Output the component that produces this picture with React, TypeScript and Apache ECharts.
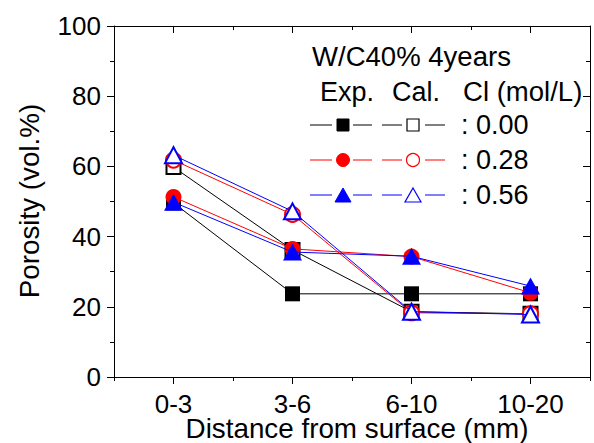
import React, { useEffect, useRef } from "react";
import * as echarts from "echarts";

const categories = ["0-3", "3-6", "6-10", "10-20"];
const exp000 = [49.6, 23.7, 23.7, 23.7];
const exp028 = [51.3, 36.5, 34.3, 24.0];
const exp056 = [49.8, 35.6, 34.4, 25.9];
const cal000 = [59.8, 36.2, 18.6, 18.0];
const cal028 = [61.8, 46.3, 18.3, 18.0];
const cal056 = [63.2, 47.2, 18.6, 17.8];
const clLabels = [": 0.00", ": 0.28", ": 0.56"];
const legendTitle = "W/C40% 4years";
const legendHeads = ["Exp.", "Cal.", "Cl (mol/L)"];
const xTitle = "Distance from surface (mm)";
const yTitle = "Porosity (vol.%)";

const FONT = '"Liberation Sans", Arial, Helvetica, sans-serif';
const BLACK = "#000000";
const RED = "#ff0000";
const BLUE = "#0000ff";

export default function App() {
  const ref = useRef<HTMLDivElement>(null);
  useEffect(() => {
    if (!ref.current) return;
    const chart = echarts.init(ref.current, null, { renderer: "svg" });
    const gridL = 114, gridT = 26, gridR = 4, gridB = 66;

    const mk = (name: string, data: number[], color: string, symbol: string, size: any, z: number) => ({
      name,
      type: "line",
      data,
      symbol,
      symbolSize: size,
      z,
      lineStyle: { color, width: 1 },
      itemStyle: { color, borderColor: color, borderWidth: symbol.startsWith("empty") ? 1.3 : 0 },
      emphasis: { disabled: true },
    });

    const legendRows = [
      { color: BLACK, kind: "square" },
      { color: RED, kind: "circle" },
      { color: BLUE, kind: "triangle" },
    ];
    const rowY = [125, 160, 195];
    const graphics: any[] = [];
    const txt = (text: string, x: number, y: number, size = 27, sx = 1, align = "left") => ({
      type: "text",
      x,
      y,
      scaleX: sx,
      style: {
        text,
        fontSize: size,
        fontFamily: FONT,
        fill: "#000",
        textAlign: align,
        textVerticalAlign: "middle",
        lineHeight: 24,
      },
    });
    graphics.push(txt(legendTitle, 312, 57, 27, 1.02));
    graphics.push(txt(legendHeads[0], 320, 92, 27));
    graphics.push(txt(legendHeads[1], 392, 92, 27));
    graphics.push(txt(legendHeads[2], 463, 92, 27, 1.02));
    legendRows.forEach((r, i) => {
      const y = rowY[i];
      [[310, 332], [353, 372], [382, 402], [425, 445]].forEach(([a, b]) => {
        graphics.push({ type: "line", shape: { x1: a, y1: y, x2: b, y2: y }, style: { stroke: r.color, lineWidth: 1 } });
      });
      const marker = (cx: number, filled: boolean) => {
        const style = filled
          ? { fill: r.color, stroke: r.color, lineWidth: 1 }
          : { fill: "#fff", stroke: r.color, lineWidth: 1.2 };
        if (r.kind === "square") {
          return { type: "rect", shape: { x: cx - 6, y: y - 6, width: 12, height: 12 }, style };
        } else if (r.kind === "circle") {
          return { type: "circle", shape: { cx, cy: y, r: 6.5 }, style };
        }
        return {
          type: "polygon",
          shape: { points: [[cx, y - 7], [cx + 8, y + 7], [cx - 8, y + 7]] },
          style,
        };
      };
      graphics.push(marker(343, true));
      graphics.push(marker(413, false));
      graphics.push(txt(clLabels[i], 461, y, 27));
    });
    graphics.push({
      type: "text",
      x: 30,
      y: 201,
      rotation: Math.PI / 2,
      scaleX: 1.03,
      style: { text: yTitle, fontSize: 27, fontFamily: FONT, fill: "#000", textAlign: "center", textVerticalAlign: "middle", lineHeight: 24 },
    });
    graphics.push({
      type: "text",
      x: 357,
      y: 429,
      scaleX: 1.03,
      style: { text: xTitle, fontSize: 27, fontFamily: FONT, fill: "#000", textAlign: "center", textVerticalAlign: "middle", lineHeight: 24 },
    });

    const baseX = {
      type: "category",
      data: categories,
      boundaryGap: true,
      splitLine: { show: false },
    };

    chart.setOption({
      animation: false,
      backgroundColor: "#ffffff",
      grid: { left: gridL, top: gridT, right: gridR, bottom: gridB, containLabel: false },
      xAxis: [
        {
          ...baseX,
          position: "bottom",
          axisLine: { show: true, lineStyle: { color: "#000", width: 1 } },
          axisTick: { show: true, alignWithLabel: true, length: 7, interval: 0, lineStyle: { color: "#000" } },
          axisLabel: { show: true, interval: 0, margin: 16, lineHeight: 22, fontSize: 26, fontFamily: FONT, color: "#000" },
        },
        {
          ...baseX,
          position: "bottom",
          axisLine: { show: false },
          axisTick: { show: true, length: 4, interval: 0, lineStyle: { color: "#000" } },
          axisLabel: { show: false },
        },
        {
          ...baseX,
          position: "top",
          axisLine: { show: true, lineStyle: { color: "#000", width: 1 } },
          axisTick: { show: true, inside: true, alignWithLabel: true, length: 7, interval: 0, lineStyle: { color: "#000" } },
          axisLabel: { show: false },
        },
        {
          ...baseX,
          position: "top",
          axisLine: { show: false },
          axisTick: { show: true, inside: true, length: 4, interval: 0, lineStyle: { color: "#000" } },
          axisLabel: { show: false },
        },
      ],
      yAxis: [
        {
          type: "value",
          min: 0,
          max: 100,
          interval: 20,
          position: "left",
          splitLine: { show: false },
          axisLine: { show: true, lineStyle: { color: "#000", width: 1 } },
          axisTick: { show: true, length: 7, lineStyle: { color: "#000" } },
          minorTick: { show: true, splitNumber: 2, length: 4, lineStyle: { color: "#000" } },
          axisLabel: { margin: 13, fontSize: 26, fontFamily: FONT, color: "#000" },
        },
        {
          type: "value",
          min: 0,
          max: 100,
          interval: 20,
          position: "right",
          splitLine: { show: false },
          axisLine: { show: true, lineStyle: { color: "#000", width: 1 } },
          axisTick: { show: true, inside: true, length: 7, lineStyle: { color: "#000" } },
          minorTick: { show: true, splitNumber: 2, length: 4, lineStyle: { color: "#000" } },
          axisLabel: { show: false },
        },
      ],
      series: [
        mk("Exp 0.00", exp000, BLACK, "rect", 15, 2),
        mk("Cal 0.00", cal000, BLACK, "emptyRect", 14, 3),
        mk("Exp 0.28", exp028, RED, "circle", 16, 4),
        mk("Cal 0.28", cal028, RED, "emptyCircle", 15, 5),
        mk("Exp 0.56", exp056, BLUE, "triangle", [19, 17], 6),
        mk("Cal 0.56", cal056, BLUE, "emptyTriangle", [17, 16], 7),
      ],
      graphic: graphics,
    });
    return () => chart.dispose();
  }, []);
  return <div ref={ref} style={{ position: "fixed", left: 0, top: 0, width: 594, height: 443 }} />;
}
